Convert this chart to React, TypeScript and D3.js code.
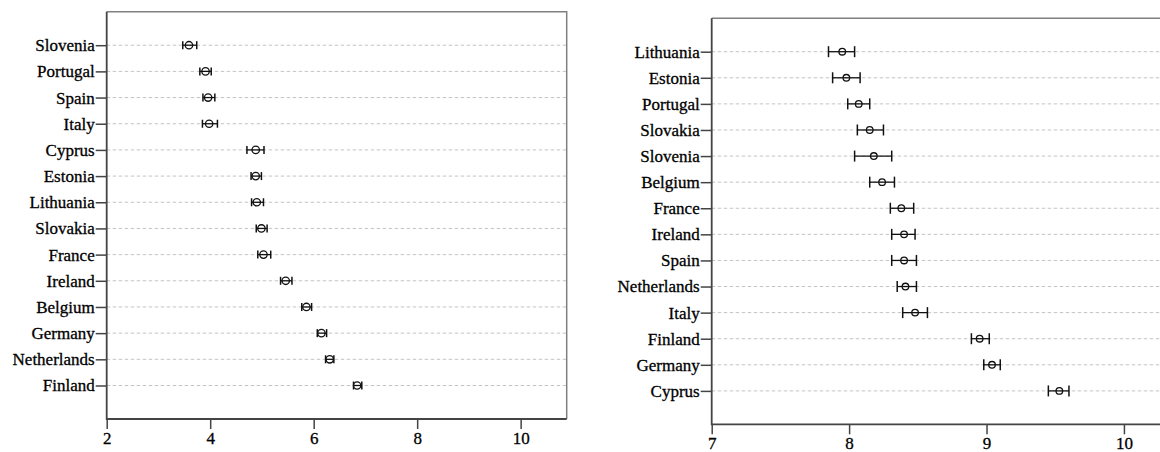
import React, { useEffect, useRef } from "react";
import * as d3 from "d3";

// left panel: countries, means and CI ends
const leftCountries = ["Slovenia", "Portugal", "Spain", "Italy", "Cyprus", "Estonia", "Lithuania", "Slovakia", "France", "Ireland", "Belgium", "Germany", "Netherlands", "Finland"];
const leftMean = [3.59, 3.91, 3.96, 3.98, 4.88, 4.88, 4.9, 4.99, 5.03, 5.46, 5.86, 6.15, 6.31, 6.84];
const leftLow = [3.47, 3.8, 3.86, 3.85, 4.71, 4.79, 4.8, 4.89, 4.92, 5.36, 5.77, 6.07, 6.23, 6.77];
const leftHigh = [3.74, 4.02, 4.09, 4.14, 5.04, 4.99, 5.03, 5.1, 5.17, 5.58, 5.96, 6.25, 6.39, 6.93];
const leftTicks = [2, 4, 6, 8, 10];

// right panel
const rightCountries = ["Lithuania", "Estonia", "Portugal", "Slovakia", "Slovenia", "Belgium", "France", "Ireland", "Spain", "Netherlands", "Italy", "Finland", "Germany", "Cyprus"];
const rightMean = [7.95, 7.98, 8.07, 8.15, 8.18, 8.24, 8.38, 8.4, 8.4, 8.41, 8.48, 8.95, 9.04, 9.53];
const rightLow = [7.85, 7.88, 7.99, 8.06, 8.04, 8.15, 8.3, 8.31, 8.31, 8.35, 8.39, 8.89, 8.98, 9.45];
const rightHigh = [8.04, 8.08, 8.15, 8.25, 8.31, 8.33, 8.47, 8.48, 8.49, 8.49, 8.57, 9.02, 9.1, 9.6];
const rightTicks = [7, 8, 9, 10];

const FONT = "Liberation Serif";

function drawPanel(svg, opts) {
  const { countries, mean, low, high, ticks, domain, left, right, top, bottom, r, cap } = opts;
  const x = d3.scaleLinear().domain(domain).range([left, right]);
  const y = d3.scalePoint().domain(countries).range([top, bottom]).padding(1.28);
  const g = svg.append("g");

  // dashed grid
  g.selectAll(".grid")
    .data(countries)
    .join("line")
    .attr("x1", left)
    .attr("x2", right)
    .attr("y1", d => y(d))
    .attr("y2", d => y(d))
    .attr("stroke", "#c4c4c4")
    .attr("stroke-width", 1)
    .attr("stroke-dasharray", "3.5,2.5");

  // frame (top & right)
  g.append("path")
    .attr("d", `M${left},${top}H${right}V${bottom}`)
    .attr("fill", "none")
    .attr("stroke", "#808080")
    .attr("stroke-width", 1.5);

  // axes
  const yAxis = d3.axisLeft(y).tickSize(11).tickPadding(1).tickSizeOuter(0);
  const ga = g.append("g").attr("transform", `translate(${left},0)`).call(yAxis);
  const xAxis = d3.axisBottom(x).tickValues(ticks).tickSize(10).tickPadding(3).tickSizeOuter(0).tickFormat(d3.format("d"));
  const gx = g.append("g").attr("transform", `translate(0,${bottom})`).call(xAxis);
  [ga, gx].forEach(a => {
    a.attr("font-family", FONT).attr("font-size", 17);
    a.select(".domain").remove();
    a.selectAll("line").attr("stroke", "#444").attr("stroke-width", 1.5);
    a.selectAll("text").attr("fill", "#000").attr("stroke", "#000").attr("stroke-width", 0.3);
  });
  g.append("path")
    .attr("d", `M${left},${top}V${bottom}H${right}`)
    .attr("fill", "none")
    .attr("stroke", "#444")
    .attr("stroke-width", 1.8);

  // error bars
  const bars = g.selectAll(".bar").data(countries).join("g");
  bars.append("line")
    .attr("x1", (d, i) => x(low[i]))
    .attr("x2", (d, i) => x(high[i]))
    .attr("y1", d => y(d))
    .attr("y2", d => y(d))
    .attr("stroke", "#111")
    .attr("stroke-width", 1.3);
  bars.append("line")
    .attr("x1", (d, i) => x(low[i]))
    .attr("x2", (d, i) => x(low[i]))
    .attr("y1", d => y(d) - cap)
    .attr("y2", d => y(d) + cap)
    .attr("stroke", "#111")
    .attr("stroke-width", 1.5);
  bars.append("line")
    .attr("x1", (d, i) => x(high[i]))
    .attr("x2", (d, i) => x(high[i]))
    .attr("y1", d => y(d) - cap)
    .attr("y2", d => y(d) + cap)
    .attr("stroke", "#111")
    .attr("stroke-width", 1.5);
  bars.append("circle")
    .attr("cx", (d, i) => x(mean[i]))
    .attr("cy", d => y(d))
    .attr("r", r)
    .attr("fill", "none")
    .attr("stroke", "#111")
    .attr("stroke-width", 1.3);
}

export default function App() {
  const svgRef = useRef(null);

  useEffect(() => {
    const svg = d3.select(svgRef.current);
    svg.selectAll("*").remove();
    drawPanel(svg, {
      countries: leftCountries, mean: leftMean, low: leftLow, high: leftHigh, ticks: leftTicks,
      domain: [2, 10.89], left: 106.7, right: 566.7, top: 11.7, bottom: 419, r: 3.7, cap: 4
    });
    drawPanel(svg, {
      countries: rightCountries, mean: rightMean, low: rightLow, high: rightHigh, ticks: rightTicks,
      domain: [7, 10.28], left: 711.7, right: 1162.4, top: 18.3, bottom: 424.3, r: 3.3, cap: 5.5
    });
  }, []);

  return (
    <svg
      ref={svgRef}
      width={1160}
      height={452}
      style={{ position: "fixed", left: 0, top: 0, background: "#fff" }}
    />
  );
}
